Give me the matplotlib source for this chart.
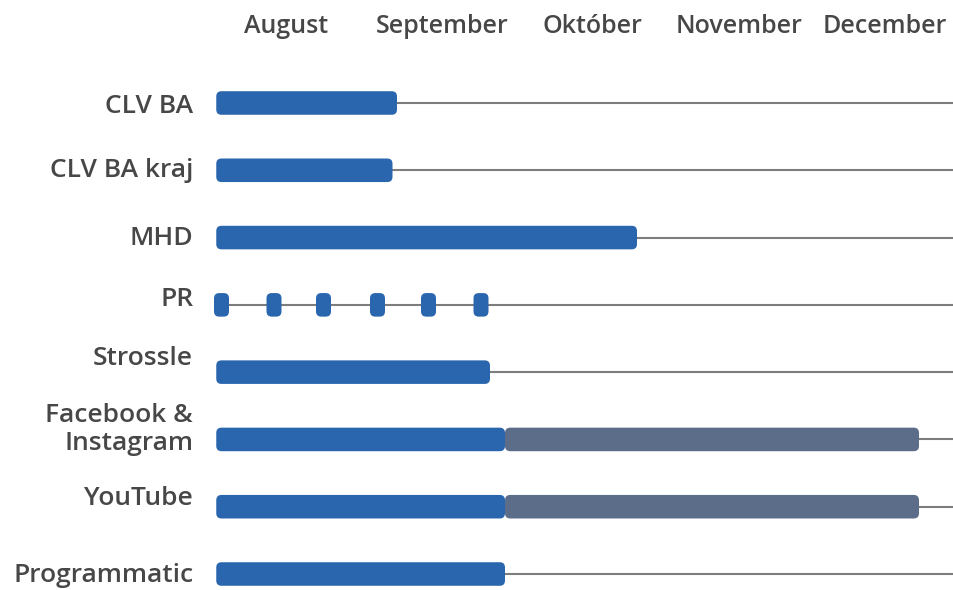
import numpy as np
import matplotlib.pyplot as plt
import matplotlib.transforms as mtransforms
from matplotlib.patches import FancyBboxPatch

# rows top to bottom
channels = ["CLV BA", "CLV BA kraj", "MHD", "PR", "Strossle",
            "Facebook &\nInstagram", "YouTube", "Programmatic"]
months = ["August", "September", "Október", "November", "December"]

# blue bar end (in months from start of August)
blue_end = [1.22, 1.19, 2.82, None, 1.84, 1.94, 1.94, 1.94]
# gray continuation end (only FB/IG and YouTube)
gray_end = [None, None, None, None, None, 4.70, 4.70, None]
# PR single-day dots
pr_dots = [0.05, 0.40, 0.73, 1.09, 1.43, 1.78]

BLUE = "#2a66ae"
GRAY = "#5c6d8a"
LINE = "#7d7d7d"
TEXT = "#474747"

plt.rcParams['font.family'] = ['Open Sans', 'DejaVu Sans']

W, H = 954, 590
fig = plt.figure(figsize=(W/100, H/100), dpi=100)
ax_left, ax_top = 214, 60
ax = fig.add_axes([ax_left/W, 0, 1 - ax_left/W, 1 - ax_top/H])

px_month = 150.0
px_row = 67.3
xmax = (W - ax_left) / px_month
ax.set_xlim(0, xmax)
ax.set_ylim(7 + 16/px_row, -(103 - ax_top)/px_row)

bar_h = 0.35
aspect = px_month / px_row
rs = 0.035
x_start = 0.015


def rbar(x0, x1, y, color, z=3):
    p = FancyBboxPatch((x0, y - bar_h/2), x1 - x0, bar_h,
                       boxstyle="round,pad=0,rounding_size=%g" % rs,
                       mutation_aspect=aspect, fc=color, ec="none", zorder=z)
    ax.add_patch(p)


for i in range(len(channels)):
    ax.hlines(i, x_start + 0.05, xmax, color=LINE, lw=1.5, zorder=1)
    if blue_end[i] is not None:
        rbar(x_start, blue_end[i], i, BLUE)
        if gray_end[i] is not None:
            rbar(blue_end[i], gray_end[i], i, GRAY, z=4)

pr_row = channels.index("PR")
for d in pr_dots:
    rbar(d - 0.05, d + 0.05, pr_row, BLUE)

ax.set_yticks(range(len(channels)))
ax.set_yticklabels(channels, fontsize=19, color=TEXT, linespacing=1.15,
                   fontweight='semibold')
ax.tick_params(axis='y', length=0, pad=15)

# labels in the source sit a little above some of the bars
shift_px = [-1, 3, 2, 8, 17, 14, 11, 2]
for lab, s in zip(ax.get_yticklabels(), shift_px):
    lab.set_transform(lab.get_transform() +
                      mtransforms.ScaledTranslation(0, s/100, fig.dpi_scale_trans))

ax.xaxis.tick_top()
ax.set_xticks([0.48, 1.52, 2.52, 3.5, 4.47])
ax.set_xticklabels(months, fontsize=18, color=TEXT, fontweight='semibold')
ax.tick_params(axis='x', length=0, pad=15)

for s in ax.spines.values():
    s.set_visible(False)

fig.savefig("out.png", dpi=100)
